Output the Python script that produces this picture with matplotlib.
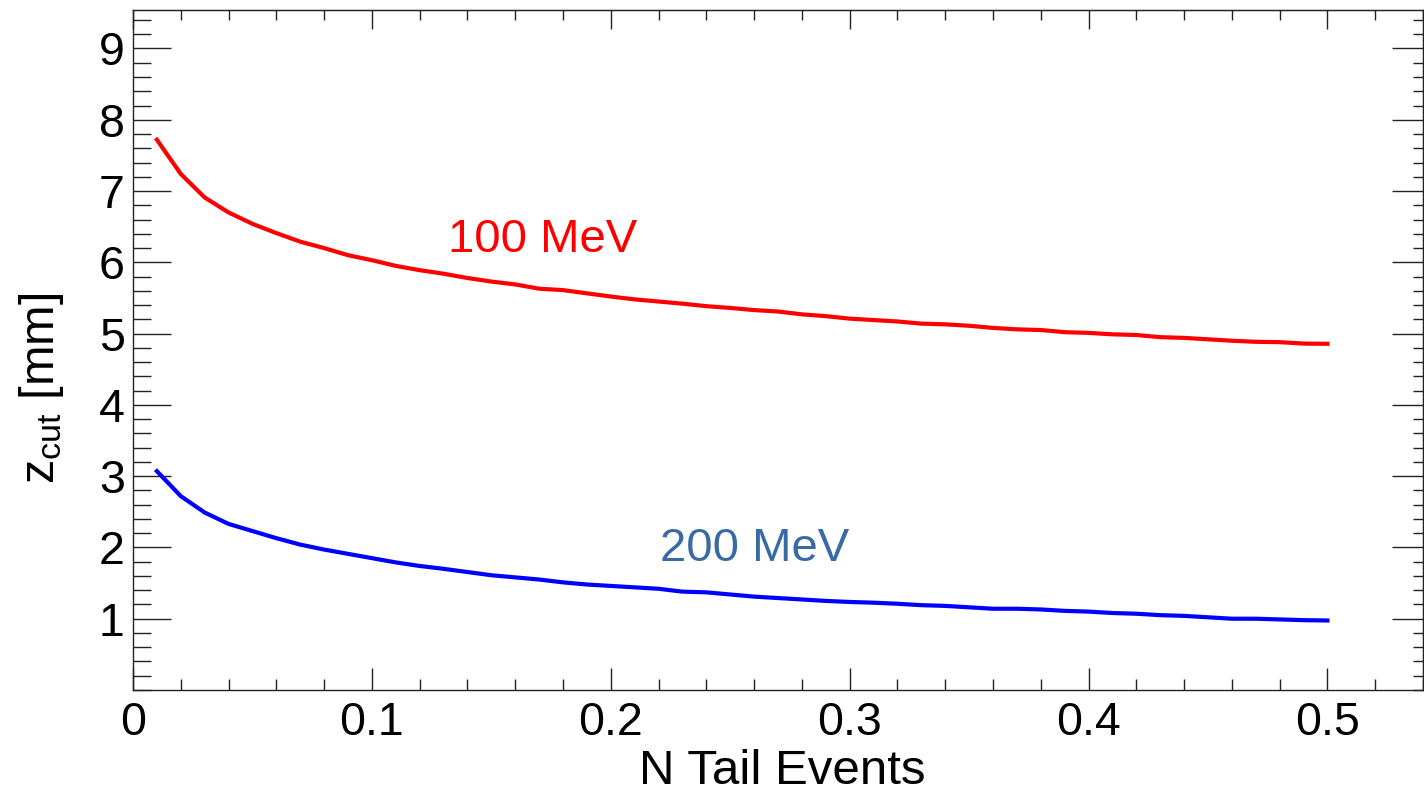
import numpy as np
import matplotlib
matplotlib.use("Agg")
import matplotlib.pyplot as plt
from matplotlib.ticker import MultipleLocator

plt.rcParams['font.family'] = ['Liberation Sans', 'DejaVu Sans']
plt.rcParams['mathtext.fontset'] = 'custom'
plt.rcParams['mathtext.rm'] = 'Liberation Sans'
plt.rcParams['mathtext.it'] = 'Liberation Sans:italic'

# N tail events (x) and z_cut values (mm)
n_tail = [0.01, 0.02, 0.03, 0.04, 0.05, 0.06, 0.07, 0.08, 0.09, 0.10,
          0.11, 0.12, 0.13, 0.14, 0.15, 0.16, 0.17, 0.18, 0.19, 0.20,
          0.21, 0.22, 0.23, 0.24, 0.25, 0.26, 0.27, 0.28, 0.29, 0.30,
          0.31, 0.32, 0.33, 0.34, 0.35, 0.36, 0.37, 0.38, 0.39, 0.40,
          0.41, 0.42, 0.43, 0.44, 0.45, 0.46, 0.47, 0.48, 0.49, 0.50]
zcut_100 = [7.72, 7.24, 6.91, 6.70, 6.54, 6.41, 6.29, 6.20, 6.10, 6.03,
            5.95, 5.89, 5.84, 5.78, 5.73, 5.69, 5.63, 5.61, 5.565, 5.52,
            5.48, 5.45, 5.42, 5.385, 5.36, 5.33, 5.31, 5.27, 5.245, 5.21,
            5.19, 5.17, 5.14, 5.13, 5.11, 5.08, 5.06, 5.05, 5.02, 5.01,
            4.99, 4.98, 4.95, 4.94, 4.92, 4.90, 4.885, 4.88, 4.86, 4.857]
zcut_200 = [3.07, 2.72, 2.49, 2.33, 2.23, 2.13, 2.04, 1.97, 1.91, 1.85,
            1.79, 1.74, 1.70, 1.655, 1.61, 1.58, 1.55, 1.51, 1.48, 1.46,
            1.44, 1.42, 1.38, 1.37, 1.34, 1.31, 1.29, 1.27, 1.25, 1.235,
            1.225, 1.21, 1.19, 1.18, 1.16, 1.14, 1.14, 1.13, 1.11, 1.10,
            1.08, 1.07, 1.05, 1.04, 1.02, 1.00, 1.00, 0.99, 0.98, 0.975]
xticks = [0, 0.1, 0.2, 0.3, 0.4, 0.5]
xtick_labels = ['0', '0.1', '0.2', '0.3', '0.4', '0.5']
yticks = [1, 2, 3, 4, 5, 6, 7, 8, 9]

fig = plt.figure(figsize=(14.24, 7.95), dpi=100)
ax = fig.add_axes([133 / 1424, 105 / 795, 1290 / 1424, 680 / 795])

ax.plot(n_tail, zcut_100, color='#ff0000', lw=3)
ax.plot(n_tail, zcut_200, color='#0000ff', lw=3)

ax.text(0.1317, 6.15, '100 MeV', color='#ff0000', fontsize=34,
        ha='left', va='baseline')
ax.text(0.2208, 1.81, '200 MeV', color='#3a6aa6', fontsize=34,
        ha='left', va='baseline')

ax.set_xlim(0, 0.54)
ax.set_ylim(0, 9.54)
ax.set_xticks(xticks)
ax.set_xticklabels(xtick_labels)
ax.set_yticks(yticks)
ax.xaxis.set_minor_locator(MultipleLocator(0.02))
ax.yaxis.set_minor_locator(MultipleLocator(0.2))

for s in ax.spines.values():
    s.set_linewidth(1.0)
    s.set_color('#222222')

ax.tick_params(axis='both', which='both', direction='in', width=1.0,
               labelsize=33.5, color='#222222')
ax.tick_params(axis='x', which='major', length=16, pad=8)
ax.tick_params(axis='x', which='minor', length=8)
ax.tick_params(axis='y', which='major', length=27, pad=6)
ax.tick_params(axis='y', which='minor', length=13)

# top / right ticks with their own lengths
top = ax.secondary_xaxis('top')
top.set_xticks(xticks)
top.xaxis.set_minor_locator(MultipleLocator(0.02))
top.tick_params(axis='x', which='major', direction='in', length=14,
                width=1.0, labeltop=False, color='#222222')
top.tick_params(axis='x', which='minor', direction='in', length=7,
                width=1.0, color='#222222')
right = ax.secondary_yaxis('right')
right.set_yticks(yticks)
right.yaxis.set_minor_locator(MultipleLocator(0.2))
right.tick_params(axis='y', which='major', direction='in', length=22,
                  width=1.0, labelright=False, color='#222222')
right.tick_params(axis='y', which='minor', direction='in', length=7,
                  width=1.0, color='#222222')

fig.text(782 / 1424, 1 / 795, 'N Tail Events', fontsize=35.5,
         ha='center', va='bottom')
fig.text(41 / 1424, 1 - 388 / 795, r'z$_{\mathregular{cut}}$ [mm]',
         fontsize=35, rotation=90, ha='center', va='center')

fig.savefig('out.png', dpi=100)
